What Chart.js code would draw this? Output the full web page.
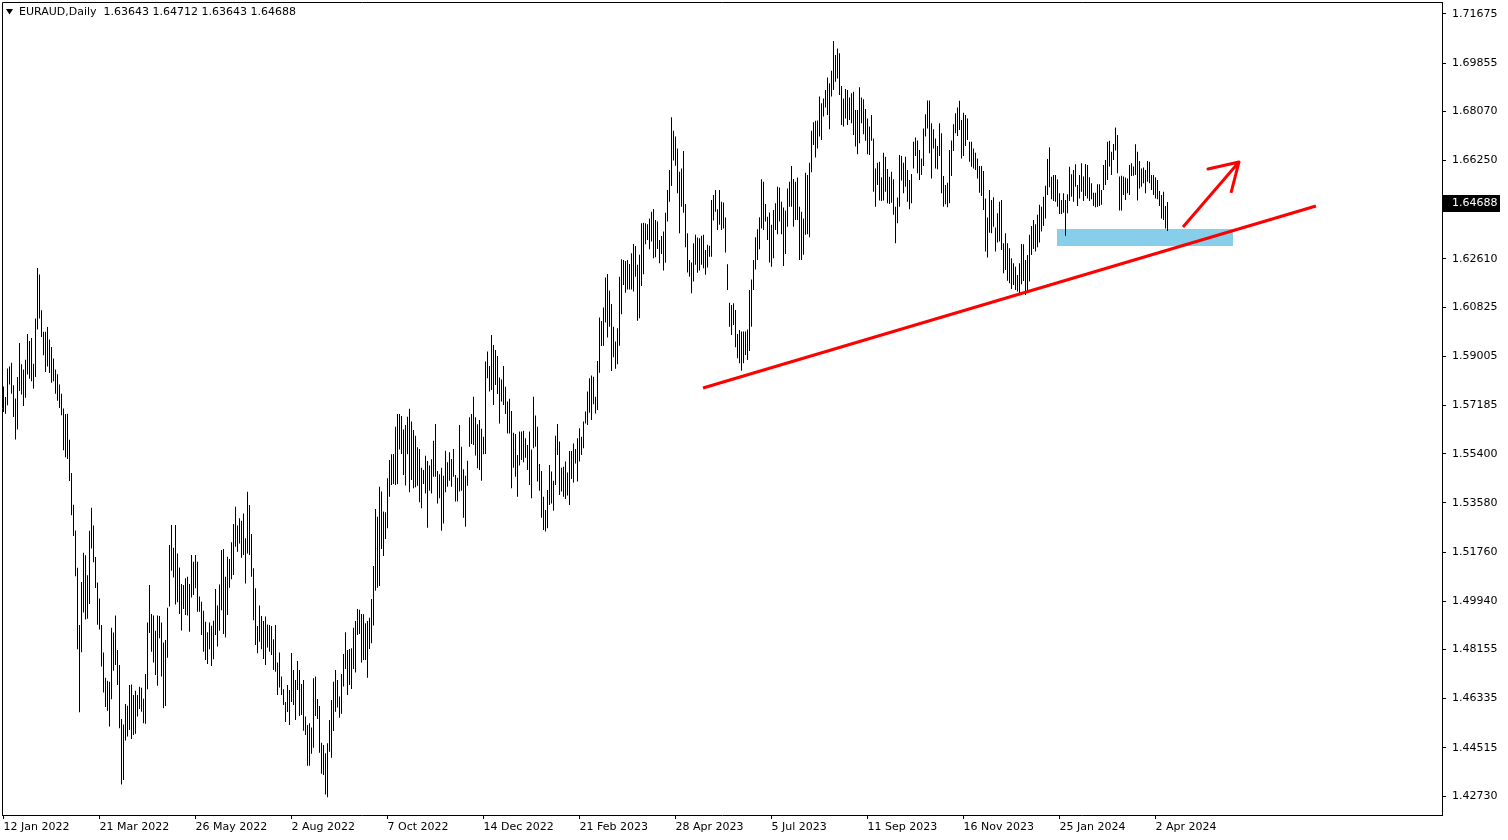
<!DOCTYPE html>
<html><head><meta charset="utf-8">
<script src="https://cdn.jsdelivr.net/npm/chart.js@4.4.1/dist/chart.umd.min.js"></script>
<style>html,body{margin:0;padding:0;background:#fff;overflow:hidden}canvas{display:block}</style>
</head><body>
<canvas id="c" width="1508" height="840"></canvas>
<script>
const symbolTitle = 'EURAUD,Daily';
const lastOHLC = [1.63643, 1.64712, 1.63643, 1.64688];

const highs = [
1.5789,1.5750,1.5855,1.5863,1.5877,1.5793,1.5744,1.5824,1.5950,1.5871,
1.5852,1.5888,1.5983,1.5957,1.5968,1.5873,1.6040,1.6227,1.6203,1.6071,
1.5991,1.5991,1.6009,1.5963,1.5935,1.5892,1.5852,1.5834,1.5796,1.5762,
1.5707,1.5687,1.5688,1.5592,1.5469,1.5351,1.5256,1.5118,1.4906,1.5065,
1.5173,1.5164,1.5090,1.5255,1.5340,1.5274,1.5158,1.5063,1.5004,1.4906,
1.4804,1.4711,1.4700,1.4696,1.4896,1.4878,1.4941,1.4813,1.4758,1.4558,
1.4538,1.4614,1.4607,1.4684,1.4686,1.4647,1.4663,1.4647,1.4677,1.4674,
1.4633,1.4725,1.4915,1.5054,1.4947,1.4941,1.4885,1.4941,1.4939,1.4915,
1.4841,1.4850,1.4970,1.5202,1.5276,1.5192,1.5276,1.5171,1.5119,1.5058,
1.5054,1.5079,1.5085,1.5058,1.5165,1.5140,1.5165,1.5140,1.5011,1.4992,
1.4959,1.4918,1.4879,1.4915,1.4903,1.4922,1.5039,1.4978,1.5056,1.5184,
1.5187,1.5085,1.5159,1.5150,1.5212,1.5280,1.5344,1.5274,1.5301,1.5292,
1.5319,1.5227,1.5399,1.5350,1.5243,1.5116,1.5042,1.4902,1.4978,1.4939,
1.4921,1.4937,1.4908,1.4906,1.4902,1.4853,1.4906,1.4767,1.4804,1.4715,
1.4668,1.4621,1.4684,1.4665,1.4802,1.4739,1.4702,1.4773,1.4739,1.4688,
1.4702,1.4567,1.4536,1.4542,1.4527,1.4709,1.4715,1.4632,1.4606,1.4470,
1.4462,1.4431,1.4468,1.4554,1.4628,1.4696,1.4739,1.4702,1.4641,1.4725,
1.4799,1.4879,1.4813,1.4817,1.4820,1.4896,1.4921,1.4965,1.4962,1.4947,
1.4946,1.4912,1.4921,1.4933,1.5002,1.5124,1.5335,1.5307,1.5418,1.5400,
1.5326,1.5323,1.5449,1.5517,1.5538,1.5539,1.5640,1.5687,1.5687,1.5680,
1.5630,1.5646,1.5677,1.5706,1.5659,1.5628,1.5606,1.5564,1.5557,1.5488,
1.5480,1.5532,1.5513,1.5496,1.5519,1.5588,1.5650,1.5476,1.5464,1.5488,
1.5458,1.5551,1.5508,1.5545,1.5520,1.5557,1.5461,1.5451,1.5646,1.5566,
1.5482,1.5458,1.5514,1.5675,1.5687,1.5751,1.5675,1.5649,1.5665,1.5632,
1.5603,1.5881,1.5918,1.5865,1.5979,1.5942,1.5924,1.5902,1.5822,1.5815,
1.5865,1.5788,1.5733,1.5743,1.5698,1.5618,1.5613,1.5535,1.5622,1.5622,
1.5625,1.5597,1.5572,1.5622,1.5556,1.5751,1.5681,1.5640,1.5502,1.5476,
1.5381,1.5332,1.5406,1.5498,1.5474,1.5440,1.5606,1.5650,1.5585,1.5488,
1.5492,1.5511,1.5470,1.5550,1.5550,1.5578,1.5557,1.5597,1.5634,1.5603,
1.5659,1.5696,1.5770,1.5819,1.5829,1.5825,1.5751,1.5883,1.6044,1.6031,
1.6081,1.6192,1.6205,1.6144,1.6094,1.6010,1.5955,1.6004,1.6195,1.6260,
1.6257,1.6253,1.6257,1.6242,1.6282,1.6316,1.6309,1.6239,1.6276,1.6393,
1.6395,1.6393,1.6389,1.6411,1.6436,1.6446,1.6405,1.6399,1.6331,1.6346,
1.6362,1.6432,1.6516,1.6590,1.6785,1.6735,1.6714,1.6670,1.6584,1.6596,
1.6660,1.6464,1.6356,1.6257,1.6248,1.6319,1.6350,1.6340,1.6337,1.6347,
1.6350,1.6294,1.6313,1.6310,1.6479,1.6498,1.6516,1.6445,1.6516,1.6473,
1.6470,1.6414,1.6241,1.6099,1.6090,1.6097,1.6072,1.5983,1.5998,1.5992,
1.5992,1.5992,1.6000,1.6146,1.6185,1.6257,1.6341,1.6371,1.6415,1.6556,
1.6547,1.6464,1.6417,1.6433,1.6387,1.6442,1.6467,1.6528,1.6525,1.6473,
1.6451,1.6440,1.6522,1.6547,1.6605,1.6557,1.6547,1.6562,1.6454,1.6436,
1.6411,1.6580,1.6572,1.6617,1.6735,1.6767,1.6772,1.6773,1.6862,1.6837,
1.6855,1.6886,1.6932,1.6911,1.6957,1.7068,1.7016,1.7040,1.7022,1.6901,
1.6855,1.6890,1.6886,1.6858,1.6874,1.6880,1.6812,1.6812,1.6896,1.6858,
1.6852,1.6816,1.6781,1.6751,1.6794,1.6707,1.6596,1.6617,1.6621,1.6563,
1.6654,1.6639,1.6594,1.6565,1.6584,1.6556,1.6454,1.6488,1.6646,1.6642,
1.6617,1.6639,1.6590,1.6553,1.6575,1.6695,1.6710,1.6699,1.6664,1.6633,
1.6744,1.6796,1.6847,1.6847,1.6763,1.6741,1.6707,1.6679,1.6763,1.6726,
1.6568,1.6535,1.6543,1.6664,1.6699,1.6759,1.6800,1.6821,1.6846,1.6775,
1.6802,1.6794,1.6781,1.6695,1.6695,1.6670,1.6654,1.6633,1.6605,1.6605,
1.6586,1.6485,1.6414,1.6516,1.6479,1.6489,1.6377,1.6430,1.6473,1.6479,
1.6319,1.6356,1.6319,1.6300,1.6263,1.6245,1.6232,1.6201,1.6245,1.6316,
1.6315,1.6257,1.6275,1.6350,1.6383,1.6405,1.6389,1.6424,1.6461,1.6454,
1.6491,1.6532,1.6631,1.6674,1.6565,1.6572,1.6572,1.6556,1.6504,1.6479,
1.6504,1.6479,1.6500,1.6602,1.6574,1.6590,1.6611,1.6535,1.6572,1.6615,
1.6566,1.6612,1.6609,1.6563,1.6541,1.6506,1.6506,1.6537,1.6537,1.6516,
1.6609,1.6627,1.6695,1.6698,1.6658,1.6686,1.6747,1.6720,1.6566,1.6569,
1.6566,1.6562,1.6559,1.6609,1.6615,1.6603,1.6685,1.6658,1.6623,1.6596,
1.6599,1.6590,1.6623,1.6621,1.6572,1.6572,1.6563,1.6553,1.6512,1.6498,
1.6510,1.6457,1.64712
];

const lows = [
1.5694,1.5688,1.5719,1.5796,1.5762,1.5676,1.5593,1.5630,1.5772,1.5759,
1.5717,1.5747,1.5833,1.5817,1.5808,1.5780,1.5824,1.6000,1.6040,1.5972,
1.5904,1.5842,1.5863,1.5839,1.5803,1.5808,1.5762,1.5736,1.5709,1.5682,
1.5553,1.5527,1.5520,1.5439,1.5312,1.5235,1.5086,1.4816,1.4583,1.4805,
1.4952,1.4926,1.4929,1.4984,1.5189,1.5138,1.5043,1.4907,1.4889,1.4752,
1.4656,1.4602,1.4589,1.4530,1.4631,1.4737,1.4758,1.4684,1.4524,1.4316,
1.4332,1.4478,1.4493,1.4517,1.4484,1.4499,1.4503,1.4567,1.4595,1.4585,
1.4542,1.4540,1.4668,1.4876,1.4807,1.4767,1.4721,1.4681,1.4857,1.4715,
1.4598,1.4606,1.4785,1.4974,1.5107,1.5082,1.4982,1.4990,1.4947,1.4886,
1.4965,1.4943,1.4941,1.4881,1.5008,1.5017,1.5042,1.4955,1.4955,1.4869,
1.4807,1.4776,1.4762,1.4816,1.4754,1.4779,1.4869,1.4826,1.4885,1.4961,
1.4873,1.4860,1.4943,1.5044,1.5075,1.5091,1.5196,1.5177,1.5208,1.5155,
1.5165,1.5060,1.5171,1.5165,1.5085,1.4924,1.4832,1.4801,1.4844,1.4816,
1.4780,1.4758,1.4823,1.4807,1.4795,1.4739,1.4733,1.4647,1.4675,1.4647,
1.4610,1.4547,1.4584,1.4536,1.4621,1.4610,1.4554,1.4665,1.4569,1.4573,
1.4515,1.4499,1.4385,1.4385,1.4429,1.4452,1.4569,1.4558,1.4433,1.4355,
1.4351,1.4279,1.4268,1.4437,1.4415,1.4514,1.4585,1.4601,1.4563,1.4577,
1.4678,1.4743,1.4647,1.4684,1.4669,1.4743,1.4730,1.4869,1.4873,1.4767,
1.4776,1.4776,1.4711,1.4817,1.4838,1.4904,1.5033,1.5044,1.5050,1.5187,
1.5161,1.5224,1.5264,1.5381,1.5424,1.5428,1.5424,1.5428,1.5556,1.5539,
1.5461,1.5422,1.5538,1.5397,1.5443,1.5412,1.5416,1.5421,1.5360,1.5338,
1.5428,1.5393,1.5266,1.5403,1.5393,1.5455,1.5455,1.5356,1.5375,1.5255,
1.5282,1.5397,1.5418,1.5440,1.5418,1.5455,1.5363,1.5363,1.5400,1.5403,
1.5303,1.5270,1.5421,1.5566,1.5576,1.5572,1.5533,1.5486,1.5480,1.5440,
1.5538,1.5539,1.5819,1.5770,1.5776,1.5720,1.5794,1.5761,1.5652,1.5733,
1.5720,1.5687,1.5615,1.5615,1.5412,1.5488,1.5455,1.5381,1.5496,1.5517,
1.5508,1.5525,1.5480,1.5424,1.5375,1.5560,1.5566,1.5437,1.5403,1.5303,
1.5258,1.5252,1.5264,1.5350,1.5356,1.5329,1.5424,1.5535,1.5387,1.5400,
1.5381,1.5372,1.5385,1.5350,1.5446,1.5433,1.5504,1.5437,1.5511,1.5535,
1.5560,1.5652,1.5646,1.5692,1.5665,1.5723,1.5689,1.5702,1.5840,1.5939,
1.5940,1.6026,1.5970,1.6010,1.5846,1.5897,1.5854,1.5871,1.5940,1.6056,
1.6164,1.6136,1.6148,1.6148,1.6148,1.6140,1.6195,1.6032,1.6041,1.6161,
1.6204,1.6315,1.6331,1.6297,1.6325,1.6263,1.6267,1.6298,1.6245,1.6279,
1.6218,1.6247,1.6399,1.6473,1.6531,1.6625,1.6606,1.6504,1.6356,1.6454,
1.6432,1.6304,1.6211,1.6195,1.6134,1.6177,1.6239,1.6210,1.6218,1.6239,
1.6226,1.6202,1.6229,1.6269,1.6269,1.6403,1.6436,1.6368,1.6387,1.6368,
1.6374,1.6285,1.6146,1.6010,1.5979,1.6016,1.5934,1.5893,1.5875,1.5847,
1.5875,1.5905,1.5887,1.5920,1.6010,1.6146,1.6222,1.6257,1.6297,1.6374,
1.6368,1.6399,1.6331,1.6248,1.6232,1.6263,1.6368,1.6352,1.6399,1.6352,
1.6235,1.6279,1.6380,1.6454,1.6454,1.6380,1.6405,1.6405,1.6257,1.6257,
1.6276,1.6350,1.6352,1.6341,1.6582,1.6683,1.6636,1.6670,1.6714,1.6701,
1.6788,1.6821,1.6794,1.6741,1.6862,1.6886,1.6917,1.6929,1.6868,1.6757,
1.6751,1.6781,1.6757,1.6775,1.6763,1.6720,1.6677,1.6648,1.6689,1.6763,
1.6722,1.6698,1.6648,1.6646,1.6698,1.6510,1.6454,1.6535,1.6477,1.6475,
1.6477,1.6510,1.6467,1.6464,1.6469,1.6424,1.6319,1.6393,1.6454,1.6551,
1.6504,1.6528,1.6473,1.6445,1.6467,1.6596,1.6642,1.6578,1.6553,1.6572,
1.6605,1.6714,1.6744,1.6652,1.6559,1.6670,1.6596,1.6593,1.6642,1.6504,
1.6454,1.6463,1.6452,1.6467,1.6568,1.6660,1.6726,1.6716,1.6738,1.6633,
1.6642,1.6679,1.6701,1.6621,1.6602,1.6596,1.6590,1.6559,1.6506,1.6494,
1.6442,1.6288,1.6266,1.6358,1.6356,1.6380,1.6288,1.6322,1.6325,1.6294,
1.6208,1.6220,1.6180,1.6171,1.6150,1.6164,1.6146,1.6140,1.6134,1.6167,
1.6179,1.6127,1.6140,1.6177,1.6275,1.6298,1.6288,1.6304,1.6322,1.6362,
1.6383,1.6411,1.6498,1.6526,1.6482,1.6475,1.6473,1.6454,1.6427,1.6427,
1.6432,1.6347,1.6430,1.6475,1.6491,1.6473,1.6528,1.6457,1.6485,1.6510,
1.6475,1.6494,1.6485,1.6475,1.6482,1.6457,1.6452,1.6454,1.6457,1.6461,
1.6516,1.6535,1.6553,1.6603,1.6572,1.6627,1.6662,1.6578,1.6440,1.6440,
1.6498,1.6479,1.6504,1.6498,1.6568,1.6569,1.6572,1.6477,1.6522,1.6528,
1.6541,1.6504,1.6547,1.6541,1.6516,1.6498,1.6485,1.6482,1.6457,1.6411,
1.6405,1.6374,1.63643
];

const dateTickIndex = [0, 48, 96, 144, 192, 240, 288, 336, 384, 432, 480, 528, 576];
const dateTickLabels = ['12 Jan 2022','21 Mar 2022','26 May 2022','2 Aug 2022','7 Oct 2022','14 Dec 2022',
  '21 Feb 2023','28 Apr 2023','5 Jul 2023','11 Sep 2023','16 Nov 2023','25 Jan 2024','2 Apr 2024'];
const priceTicks = [1.42730,1.44515,1.46335,1.48155,1.49940,1.51760,1.53580,1.55400,1.57185,
  1.59005,1.60825,1.62610,1.64430,1.66250,1.68070,1.69855,1.71675];

// drawn objects, in bar-index / price units
const trendX = [349.75, 656.25];
const trendY = [1.57832, 1.64568];
const arrowX = [589.75, 617.75, 602.25, 617.75, 613.75];
const arrowY = [1.63791, 1.66197, 1.65938, 1.66197, 1.65050];
const zoneX = [526.75, 614.75];
const zoneY = [1.63088, 1.63717];

Chart.defaults.font.family = 'DejaVu Sans';
Chart.defaults.font.size = 11;
Chart.defaults.color = '#000';

const mtPlugin = {
  id: 'mt',
  afterDraw(chart) {
    const {ctx, chartArea: a, scales} = chart;
    ctx.save();
    ctx.strokeStyle = '#000';
    ctx.lineWidth = 1;
    ctx.beginPath();
    ctx.moveTo(a.left + 0.5, a.bottom);
    ctx.lineTo(a.left + 0.5, a.top + 0.5);
    ctx.lineTo(a.right, a.top + 0.5);
    ctx.stroke();
    // header
    ctx.fillStyle = '#000';
    ctx.beginPath();
    ctx.moveTo(6, 9); ctx.lineTo(13, 9); ctx.lineTo(9.5, 14.5); ctx.closePath(); ctx.fill();
    ctx.font = '11px "DejaVu Sans"';
    ctx.textBaseline = 'middle';
    ctx.textAlign = 'left';
    ctx.fillText(symbolTitle + '  ' + lastOHLC.map(v => v.toFixed(5)).join(' '), 19, 12.5);
    // current price label
    const y = Math.round(scales.y.getPixelForValue(lastOHLC[3]));
    ctx.fillStyle = '#000';
    ctx.fillRect(a.right + 1, y - 8, 57, 17);
    ctx.fillStyle = '#fff';
    ctx.fillText(lastOHLC[3].toFixed(5), 1452, y + 0.5);
    ctx.restore();
  }
};

new Chart(document.getElementById('c'), {
  type: 'bar',
  data: {
    datasets: [
      {type: 'line', label: 'zoneTop', data: zoneX.map(x => ({x, y: zoneY[1]})),
        borderColor: 'rgba(0,0,0,0)', borderWidth: 0, pointRadius: 0, fill: false, order: 10},
      {type: 'line', label: 'zoneBottom', data: zoneX.map(x => ({x, y: zoneY[0]})),
        borderColor: 'rgba(0,0,0,0)', borderWidth: 0, pointRadius: 0, fill: '-1',
        backgroundColor: 'rgb(135,206,235)', order: 10},
      {type: 'bar', label: 'EURAUD', data: highs.map((h, i) => ({x: i, y: [lows[i], h]})),
        backgroundColor: '#000', borderWidth: 0, barThickness: 1, inflateAmount: 0, grouped: false, order: 5},
      {type: 'line', label: 'trend', data: trendX.map((x, i) => ({x, y: trendY[i]})),
        borderColor: '#ff0000', borderWidth: 3, pointRadius: 0, fill: false, tension: 0, order: 1},
      {type: 'line', label: 'arrow', data: arrowX.map((x, i) => ({x, y: arrowY[i]})),
        borderColor: '#ff0000', borderWidth: 3, pointRadius: 0, fill: false, tension: 0,
        borderJoinStyle: 'round', order: 1}
    ]
  },
  options: {
    responsive: false,
    animation: false,
    devicePixelRatio: 1,
    events: [],
    layout: {padding: {left: 2, top: 2, right: 0, bottom: 0}},
    plugins: {legend: {display: false}, tooltip: {enabled: false}},
    scales: {
      x: {
        type: 'linear', position: 'bottom', min: -0.75, max: 719.25, offset: false,
        afterBuildTicks: s => { s.ticks = dateTickIndex.map(v => ({value: v})); },
        afterFit: s => { s.height = 25; s.paddingLeft = 0; s.paddingRight = 0; },
        ticks: {
          autoSkip: false, maxRotation: 0, minRotation: 0, align: 'start', padding: 2, color: '#000',
          font: {family: 'DejaVu Sans', size: 11},
          callback: v => { const k = dateTickIndex.indexOf(v); return k >= 0 ? dateTickLabels[k] : ''; }
        },
        grid: {display: true, offset: false, drawOnChartArea: false, drawTicks: true, tickLength: 4, color: '#000'},
        border: {display: true, color: '#000', width: 1}
      },
      y: {
        type: 'linear', position: 'right', min: 1.42027, max: 1.72119,
        afterBuildTicks: s => { s.ticks = priceTicks.map(v => ({value: v})); },
        afterFit: s => { s.width = 66; s.paddingTop = 0; s.paddingBottom = 0; },
        ticks: {
          autoSkip: false, padding: 6, color: '#000', font: {family: 'DejaVu Sans', size: 11},
          callback: v => Math.abs(v - lastOHLC[3]) < 0.004 ? '' : Number(v).toFixed(5)
        },
        grid: {display: true, drawOnChartArea: false, drawTicks: true, tickLength: 4, color: '#000'},
        border: {display: true, color: '#000', width: 1}
      }
    }
  },
  plugins: [mtPlugin]
});
</script>
</body></html>
